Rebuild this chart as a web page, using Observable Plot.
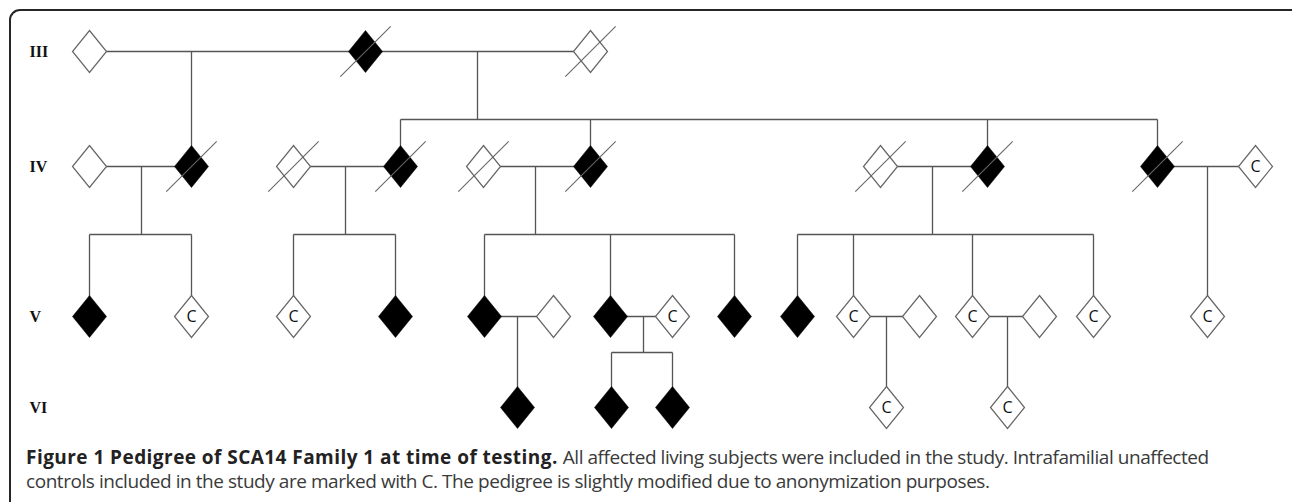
<!DOCTYPE html>
<html>
<head>
<meta charset="utf-8">
<script src="https://cdn.jsdelivr.net/npm/d3@7"></script>
<script src="https://cdn.jsdelivr.net/npm/@observablehq/plot@0.6"></script>
<style>
  html, body { margin: 0; padding: 0; background: #fff; width: 1292px; height: 502px; overflow: hidden; }
  #frame { position: absolute; left: 9px; top: 9px; width: 1300px; height: 620px; border: 2px solid #262626; border-radius: 11px; box-sizing: border-box; }
  #chart { position: absolute; left: 0; top: 0; }
  #caption { position: absolute; left: 26px; top: 446px; width: 1240px; font-family: "Open Sans", sans-serif; font-size: 19px; line-height: 22px; color: #3a3a3a; }
  #caption div { white-space: nowrap; height: 24px; overflow: visible; }
  #caption span { display: inline-block; height: 22px; line-height: 22px; vertical-align: top; overflow: visible; }
  #caption .t { font-weight: 700; color: #222; letter-spacing: 0.45px; }
  #caption .r { letter-spacing: -0.45px; }
</style>
</head>
<body>
<div id="frame"></div>
<div id="chart"></div>
<div id="caption">
  <div><span class="t">Figure 1 Pedigree of SCA14 Family 1 at time of testing.</span> <span class="r">All affected living subjects were included in the study. Intrafamilial unaffected</span></div>
  <div><span class="r">controls included in the study are marked with C. The pedigree is slightly modified due to anonymization purposes.</span></div>
</div>
<script>
// Generations and their row positions (layout units)
const generations = ["III", "IV", "V", "VI"];
const generationRow = [51, 166, 316, 407];

// Individuals: id, generation, horizontal layout position, status (A = affected, U = unaffected, C = control), deceased
const personId   = ["a1","a2","a3", "b1","b2","b3","b4","b5","b6","b7","b8","b9","b10",
                    "c1","c2","c3","c4","c5","c6","c7","c8","c9","c10","c11","c12","c13","c14","c15","c16",
                    "d1","d2","d3","d4","d5"];
const personGen  = ["III","III","III", "IV","IV","IV","IV","IV","IV","IV","IV","IV","IV",
                    "V","V","V","V","V","V","V","V","V","V","V","V","V","V","V","V",
                    "VI","VI","VI","VI","VI"];
const personPos  = [89, 365, 590, 89, 191, 293, 400, 483, 590, 880, 987, 1157, 1255,
                    89, 191, 293, 395, 484, 553, 610, 672, 734, 797, 853, 919, 972, 1039, 1093, 1207,
                    517, 611, 672, 886, 1007];
const personStatus = ["U","A","U", "U","A","U","A","U","A","U","A","A","C",
                      "A","C","C","A","A","U","A","C","A","A","C","U","C","U","C","C",
                      "A","A","A","C","C"];
const personDeceased = [false,true,true, false,true,true,true,true,true,true,true,true,false,
                        false,false,false,false,false,false,false,false,false,false,false,false,false,false,false,false,
                        false,false,false,false,false];

// Families: parents, descent-line position, sibship-line level (null when one child), children
const familyParents  = [["a1","a2"],["a2","a3"],["b1","b2"],["b3","b4"],["b5","b6"],["b7","b8"],["b9","b10"],["c5","c6"],["c7","c8"],["c11","c12"],["c13","c14"]];
const familyDrop     = [191, 477, 141, 345, 535, 932, 1207, 517, 643, 886, 1007];
const familySibLevel = [null, 119, 234, 234, 234, 234, null, null, 352, null, null];
const familyChildren = [["b2"],["b4","b6","b8","b9"],["c1","c2"],["c3","c4"],["c5","c7","c9"],["c10","c11","c13","c15"],["c16"],["d1"],["d2","d3"],["d4"],["d5"]];

// ---- build tables ----
const rowOf = Object.fromEntries(generations.map((g, i) => [g, generationRow[i]]));
const people = personId.map((id, i) => ({
  id, gen: personGen[i], x: personPos[i], y: rowOf[personGen[i]],
  status: personStatus[i], deceased: personDeceased[i]
}));
const byId = Object.fromEntries(people.map(p => [p.id, p]));

const segments = [];
familyParents.forEach(([p1, p2], i) => {
  const a = byId[p1], b = byId[p2];
  segments.push({x1: a.x, y1: a.y, x2: b.x, y2: b.y}); // marriage line
  const kids = familyChildren[i].map(k => byId[k]);
  const drop = familyDrop[i], lvl = familySibLevel[i];
  if (lvl == null) {
    segments.push({x1: drop, y1: a.y, x2: drop, y2: kids[0].y});
  } else {
    segments.push({x1: drop, y1: a.y, x2: drop, y2: lvl});
    const xsK = kids.map(k => k.x);
    segments.push({x1: d3.min(xsK), y1: lvl, x2: d3.max(xsK), y2: lvl});
    kids.forEach(k => segments.push({x1: k.x, y1: lvl, x2: k.x, y2: k.y}));
  }
});

const genLabels = generations.map((g, i) => ({label: g, y: generationRow[i]}));

// custom symbols
const diamond = {
  draw(context, size) {
    const r = Math.sqrt(size / Math.PI);
    const w = r * 0.81;
    context.moveTo(0, -r);
    context.lineTo(w, 0);
    context.lineTo(0, r);
    context.lineTo(-w, 0);
    context.closePath();
  }
};
const slash = {
  draw(context, size) {
    const r = Math.sqrt(size / Math.PI);
    const k = r * 1.2;
    context.moveTo(-k, k);
    context.lineTo(k, -k);
  }
};

const chart = Plot.plot({
  width: 1292,
  height: 440,
  margin: 0,
  x: {domain: [0, 1292], range: [0, 1292], axis: null},
  y: {domain: [0, 440], range: [0, 440], axis: null},
  style: {background: "transparent"},
  marks: [
    Plot.link(segments, {x1: "x1", y1: "y1", x2: "x2", y2: "y2", stroke: "#555", strokeWidth: 1.3}),
    Plot.dot(people.filter(p => p.status !== "A"), {x: "x", y: "y", symbol: diamond, r: 21, fill: "white", stroke: "#666", strokeWidth: 1.2}),
    Plot.dot(people.filter(p => p.status === "A"), {x: "x", y: "y", symbol: diamond, r: 21, fill: "black", stroke: "black", strokeWidth: 0.5}),
    Plot.dot(people.filter(p => p.deceased), {x: "x", y: "y", symbol: slash, r: 21, fill: "none", stroke: "#666", strokeWidth: 1.1}),
    Plot.text(people.filter(p => p.status === "C"), {x: "x", y: "y", text: () => "C", fontSize: 16, fontFamily: "Open Sans, sans-serif", fill: "#111"}),
    Plot.text(genLabels, {x: 29, y: "y", text: "label", textAnchor: "start", fontSize: 16, fontWeight: "bold", fontFamily: "Liberation Serif, serif", fill: "#111"})
  ]
});
document.getElementById("chart").appendChild(chart);
</script>
</body>
</html>
